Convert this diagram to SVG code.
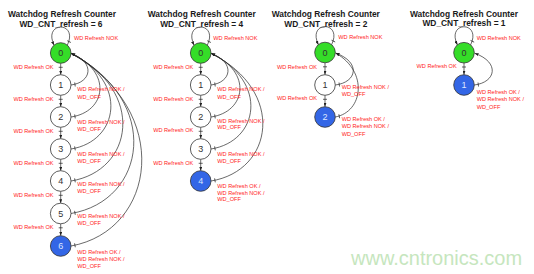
<svg xmlns="http://www.w3.org/2000/svg" width="534" height="274" viewBox="0 0 534 274">
<style>
.ttl{font-family:"Liberation Sans",Arial,sans-serif;font-weight:bold;font-size:8.4px;fill:#1a1a1a;text-anchor:middle}
.lbl{font-family:"Liberation Sans",Arial,sans-serif;font-size:5.6px;fill:#ff1a1a}
.ok{text-anchor:end}
.st{stroke:#333;stroke-width:0.8}
.w{fill:#fff}
.g{fill:#35dd28}
.b{fill:#3366e6}
.num{font-family:"Liberation Sans",Arial,sans-serif;font-size:9px;text-anchor:middle;fill:#333}
.nb{fill:#dde6ff}
.ln{fill:none;stroke:#2a2a2a;stroke-width:0.7;marker-end:url(#arr);marker-start:url(#tick)}
.wm{font-family:"Liberation Sans",Arial,sans-serif;font-size:20px;fill:#c6e6be}
</style>
<defs>
<marker id="arr" markerUnits="userSpaceOnUse" markerWidth="4" markerHeight="3" viewBox="0 0 4 3" refX="4" refY="1.5" orient="auto"><path d="M0,0 L4,1.5 L0,3 z" fill="#222"/></marker>
<marker id="tick" markerUnits="userSpaceOnUse" markerWidth="10" markerHeight="10" viewBox="-5 -5 10 10" refX="0" refY="0" orient="auto" overflow="visible"><path d="M4,-2 L4,2" stroke="#222" stroke-width="0.7"/></marker>
</defs>

<g id="titles">
<text class="ttl" x="62" y="16.5">Watchdog Refresh Counter</text>
<text class="ttl" x="61" y="26.5">WD_CNT_refresh = 6</text>
<text class="ttl" x="201.7" y="16.5">Watchdog Refresh Counter</text>
<text class="ttl" x="201.7" y="26.5">WD_CNT_refresh = 4</text>
<text class="ttl" x="325.8" y="16.5">Watchdog Refresh Counter</text>
<text class="ttl" x="325.8" y="26.5">WD_CNT_refresh = 2</text>
<text class="ttl" x="464" y="16.5">Watchdog Refresh Counter</text>
<text class="ttl" x="464" y="26">WD_CNT_refresh = 1</text>
</g>

<g id="connectors">
<!-- column 1 -->
<path class="ln" d="M67.3,45.2 C79,21 42.4,21 54.1,45.2"/>
<path class="ln" d="M60.7,63.3 L60.7,74.7"/>
<path class="ln" d="M60.7,95.3 L60.7,106.7"/>
<path class="ln" d="M60.7,127.3 L60.7,138.7"/>
<path class="ln" d="M60.7,159.3 L60.7,170.7"/>
<path class="ln" d="M60.7,191.3 L60.7,203.2"/>
<path class="ln" d="M60.7,223.8 L60.7,235.7"/>
<path class="ln" d="M71,85 C91.4,82.4 95.7,62.6 71.3,53.5"/>
<path class="ln" d="M71,117 C105.8,111.9 113.1,72.2 71.3,53.5"/>
<path class="ln" d="M71,149 C119,141.3 129,81.8 71.3,53.5"/>
<path class="ln" d="M71,181 C133.4,170.8 146.4,91.4 71.3,53.5"/>
<path class="ln" d="M71,213.5 C146.6,200.7 162.4,101.2 71.3,53.5"/>
<path class="ln" d="M71,246 C156.2,230.6 174,110.9 71.3,53.5"/>
<!-- column 2 -->
<path class="ln" d="M207.3,45.2 C219,21 182.4,21 194.1,45.2"/>
<path class="ln" d="M200.7,63.3 L200.7,74.7"/>
<path class="ln" d="M200.7,95.3 L200.7,106.7"/>
<path class="ln" d="M200.7,127.3 L200.7,138.7"/>
<path class="ln" d="M200.7,159.3 L200.7,170.7"/>
<path class="ln" d="M211,85 C231.4,82.4 235.7,62.6 211.3,53.5"/>
<path class="ln" d="M211,117 C245.8,111.9 253.1,72.2 211.3,53.5"/>
<path class="ln" d="M211,149 C259,141.3 269,81.8 211.3,53.5"/>
<path class="ln" d="M211,181 C273.4,170.8 286.4,91.4 211.3,53.5"/>
<!-- column 3 -->
<path class="ln" d="M331.6,44.7 C343.3,20.5 306.7,20.5 318.4,44.7"/>
<path class="ln" d="M325,62.8 L325,74.7"/>
<path class="ln" d="M325,95.3 L325,106.7"/>
<path class="ln" d="M335.3,85 C356.9,82.4 361.4,62.3 335.6,53"/>
<path class="ln" d="M335.3,117 C362.9,111.8 368.7,71.9 335.6,53"/>
<!-- column 4 -->
<path class="ln" d="M470.6,44.9 C482.3,20.7 445.7,20.7 457.4,44.9"/>
<path class="ln" d="M464,63 L464,74.7"/>
<path class="ln" d="M474.3,85 C495.9,82.4 500.4,62.4 474.6,53.2"/>
</g>

<g id="c1-n0"><circle class="st g" cx="60.7" cy="53" r="10.3"/><text class="num" x="60.7" y="56.2">0</text></g>
<g id="c1-n1"><circle class="st w" cx="60.7" cy="85" r="10.3"/><text class="num" x="60.7" y="88.2">1</text></g>
<g id="c1-n2"><circle class="st w" cx="60.7" cy="117" r="10.3"/><text class="num" x="60.7" y="120.2">2</text></g>
<g id="c1-n3"><circle class="st w" cx="60.7" cy="149" r="10.3"/><text class="num" x="60.7" y="152.2">3</text></g>
<g id="c1-n4"><circle class="st w" cx="60.7" cy="181" r="10.3"/><text class="num" x="60.7" y="184.2">4</text></g>
<g id="c1-n5"><circle class="st w" cx="60.7" cy="213.5" r="10.3"/><text class="num" x="60.7" y="216.7">5</text></g>
<g id="c1-n6"><circle class="st b" cx="60.7" cy="246" r="10.3"/><text class="num nb" x="60.7" y="249.2">6</text></g>

<g id="c2-n0"><circle class="st g" cx="200.7" cy="53" r="10.3"/><text class="num" x="200.7" y="56.2">0</text></g>
<g id="c2-n1"><circle class="st w" cx="200.7" cy="85" r="10.3"/><text class="num" x="200.7" y="88.2">1</text></g>
<g id="c2-n2"><circle class="st w" cx="200.7" cy="117" r="10.3"/><text class="num" x="200.7" y="120.2">2</text></g>
<g id="c2-n3"><circle class="st w" cx="200.7" cy="149" r="10.3"/><text class="num" x="200.7" y="152.2">3</text></g>
<g id="c2-n4"><circle class="st b" cx="200.7" cy="181" r="10.3"/><text class="num nb" x="200.7" y="184.2">4</text></g>

<g id="c3-n0"><circle class="st g" cx="325" cy="52.5" r="10.3"/><text class="num" x="325" y="55.7">0</text></g>
<g id="c3-n1"><circle class="st w" cx="325" cy="85" r="10.3"/><text class="num" x="325" y="88.2">1</text></g>
<g id="c3-n2"><circle class="st b" cx="325" cy="117" r="10.3"/><text class="num nb" x="325" y="120.2">2</text></g>

<g id="c4-n0"><circle class="st g" cx="464" cy="52.7" r="10.3"/><text class="num" x="464" y="55.9">0</text></g>
<g id="c4-n1"><circle class="st b" cx="464" cy="85" r="10.3"/><text class="num nb" x="464" y="88.2">1</text></g>

<g id="labels">
<text class="lbl" x="74" y="40">WD Refresh NOK</text>
<text class="lbl ok" x="53.5" y="69">WD Refresh OK</text>
<text class="lbl ok" x="53.5" y="101">WD Refresh OK</text>
<text class="lbl ok" x="53.5" y="132.5">WD Refresh OK</text>
<text class="lbl ok" x="53.5" y="165.3">WD Refresh OK</text>
<text class="lbl ok" x="53.5" y="197">WD Refresh OK</text>
<text class="lbl ok" x="53.5" y="228.7">WD Refresh OK</text>
<text class="lbl" x="77.3" y="91.3">WD Refresh NOK /</text>
<text class="lbl" x="77.3" y="98.7">WD_OFF</text>
<text class="lbl" x="77.3" y="123.7">WD Refresh NOK /</text>
<text class="lbl" x="77.3" y="130.7">WD_OFF</text>
<text class="lbl" x="77.3" y="156">WD Refresh NOK /</text>
<text class="lbl" x="77.3" y="162.7">WD_OFF</text>
<text class="lbl" x="77.3" y="186.3">WD Refresh NOK /</text>
<text class="lbl" x="77.3" y="193">WD_OFF</text>
<text class="lbl" x="77.3" y="218">WD Refresh NOK /</text>
<text class="lbl" x="77.3" y="225.3">WD_OFF</text>
<text class="lbl" x="77.3" y="254.3">WD Refresh OK /</text>
<text class="lbl" x="77.3" y="261">WD Refresh NOK /</text>
<text class="lbl" x="77.3" y="267.7">WD_OFF</text>

<text class="lbl" x="213.3" y="39.7">WD Refresh NOK</text>
<text class="lbl ok" x="193.3" y="68.7">WD Refresh OK</text>
<text class="lbl ok" x="193.3" y="101">WD Refresh OK</text>
<text class="lbl ok" x="193.3" y="132">WD Refresh OK</text>
<text class="lbl ok" x="193.3" y="165.3">WD Refresh OK</text>
<text class="lbl" x="217.3" y="91.3">WD Refresh NOK /</text>
<text class="lbl" x="217.3" y="98.7">WD_OFF</text>
<text class="lbl" x="217.3" y="122.7">WD Refresh NOK /</text>
<text class="lbl" x="217.3" y="129.3">WD_OFF</text>
<text class="lbl" x="217.3" y="156">WD Refresh NOK /</text>
<text class="lbl" x="217.3" y="162.7">WD_OFF</text>
<text class="lbl" x="217.3" y="188">WD Refresh OK /</text>
<text class="lbl" x="217.3" y="194.7">WD Refresh NOK /</text>
<text class="lbl" x="217.3" y="201.4">WD_OFF</text>

<text class="lbl" x="338.3" y="39.3">WD Refresh NOK</text>
<text class="lbl ok" x="317" y="68.7">WD Refresh OK</text>
<text class="lbl ok" x="317" y="100.3">WD Refresh OK</text>
<text class="lbl" x="341.7" y="89.3">WD Refresh NOK /</text>
<text class="lbl" x="341.7" y="96">WD_OFF</text>
<text class="lbl" x="341.7" y="121">WD Refresh OK /</text>
<text class="lbl" x="341.7" y="128.3">WD Refresh NOK /</text>
<text class="lbl" x="341.7" y="135.6">WD_OFF</text>

<text class="lbl" x="476.7" y="39.7">WD Refresh NOK</text>
<text class="lbl ok" x="456.7" y="68.3">WD Refresh OK</text>
<text class="lbl" x="476.7" y="93.7">WD Refresh OK /</text>
<text class="lbl" x="476.7" y="101.3">WD Refresh NOK /</text>
<text class="lbl" x="476.7" y="109">WD_OFF</text>
</g>

<text class="wm" x="351" y="265">www.cntronics.com</text>
</svg>
